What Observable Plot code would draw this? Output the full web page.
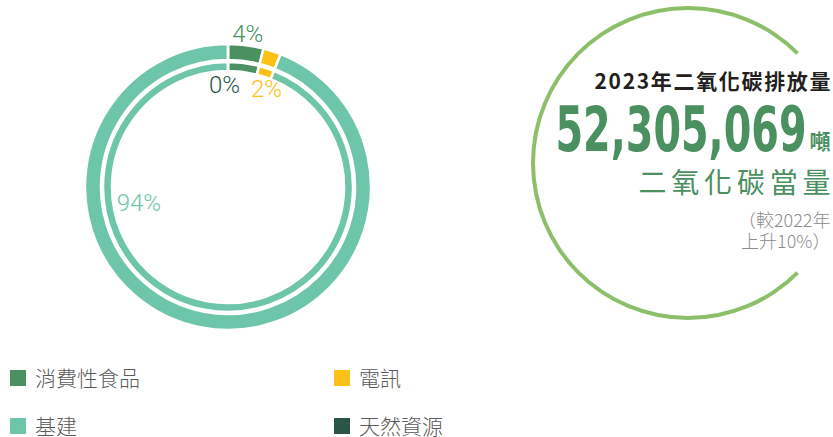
<!DOCTYPE html>
<html><head><meta charset="utf-8">
<script src="https://cdn.jsdelivr.net/npm/d3@7"></script>
<script src="https://cdn.jsdelivr.net/npm/@observablehq/plot@0.6"></script>
<style>
body{margin:0;background:#fff;}
#chart{width:833px;}
#legend{padding:4px 0 0 10px;}
#legend .lg-swatches{margin:0;font-family:"Noto Sans CJK TC",sans-serif;font-size:21px;font-weight:300;color:#5a5a5a;line-height:1.1;}
#legend .lg-swatches-wrap{min-height:0;}
#legend .lg-swatches-wrap .lg-swatch{width:324px;height:48px;margin:0;}
#legend .lg-swatch > svg{margin-right:9px;}
</style></head><body><div id="chart"></div><div id="legend"></div>
<script>
// ---- data ----
const categories = ["消費性食品", "電訊", "基建", "天然資源"];
const shares = [4, 2, 94, 0];
const labels = ["4%", "2%", "94%", "0%"];
const colors = ["#4a9060", "#fcc016", "#6dc6aa", "#2b5546"];
const totalTitle = "2023年二氧化碳排放量";
const totalValue = "52,305,069";
const totalUnit = "噸";
const totalSub = "二氧化碳當量";
const changeNote = ["（較2022年", "上升10%）"];

// ---- layout ----
const W = 833, H = 350;
const donut = {cx: 228, cy: 187, gap: 2.5, rings: [{inner: 127, outer: 143}, {inner: 116, outer: 125}]};
const labelPlacement = [{r: 154, shift: 0}, {r: 105, shift: 3.2}, {r: 91, shift: 69.2}, {r: 102, shift: -2.2}];
const emblem = {cx: 688, cy: 163, r: 155, width: 4, start: 135, end: 405, color: "#8dbf6b"};
const rightX = 830;

const arcs = d3.pie().sort(null).value(v => v)(shares);
const rad = Math.PI / 180;
const labelRows = categories.map((c, i) => {
  const a = arcs[i];
  const ang = (a.startAngle + a.endAngle) / 2 + labelPlacement[i].shift * rad;
  const r = labelPlacement[i].r;
  return {category: c, label: labels[i], x: donut.cx + r * Math.sin(ang), y: donut.cy - r * Math.cos(ang)};
});

function ringsMark(index, scales) {
  const color = scales.color || d3.scaleOrdinal(categories, colors);
  const g = d3.create("svg:g");
  for (const ring of donut.rings) {
    const gen = d3.arc().innerRadius(ring.inner).outerRadius(ring.outer);
    g.append("g")
      .attr("transform", `translate(${scales.x(donut.cx)},${scales.y(donut.cy)})`)
      .selectAll("path").data(arcs).join("path")
      .attr("d", gen)
      .attr("fill", (d, i) => color(categories[i]))
      .attr("stroke", "#fff").attr("stroke-width", donut.gap);
  }
  g.append("path")
    .attr("transform", `translate(${scales.x(emblem.cx)},${scales.y(emblem.cy)})`)
    .attr("d", d3.arc()({innerRadius: emblem.r - emblem.width / 2, outerRadius: emblem.r + emblem.width / 2,
      startAngle: emblem.start * rad, endAngle: emblem.end * rad}))
    .attr("fill", emblem.color);
  return g.node();
}

const cjk = "'Noto Sans CJK TC', sans-serif";
const plot = Plot.plot({
  width: W, height: H, margin: 0,
  x: {domain: [0, W], range: [0, W], axis: null},
  y: {domain: [0, H], range: [0, H], axis: null},
  color: {type: "ordinal", domain: categories, range: colors},
  marks: [
    ringsMark,
    Plot.text(labelRows, {x: "x", y: "y", text: "label", fill: "category", fontSize: 24,
      fontWeight: 300, fontFamily: "Roboto, 'Liberation Sans', sans-serif", textAnchor: "middle", lineAnchor: "middle"}),
    Plot.text([totalTitle], {x: rightX, y: 88, text: d => d, textAnchor: "end", lineAnchor: "bottom",
      fontSize: 21, fontWeight: "bold", fontFamily: cjk, fill: "#231f20"}),
    Plot.text([totalValue], {x: 806, y: 150, text: d => d, textAnchor: "end", lineAnchor: "bottom",
      fontSize: 63, fontWeight: "bold", fontFamily: "'Liberation Sans Narrow', 'DejaVu Sans Condensed', sans-serif", fill: "#4a9060"}),
    Plot.text([totalUnit], {x: rightX, y: 148, text: d => d, textAnchor: "end", lineAnchor: "bottom",
      fontSize: 21, fontWeight: "bold", fontFamily: cjk, fill: "#4a9060"}),
    Plot.text([totalSub], {x: rightX, y: 192, text: d => d, textAnchor: "end", lineAnchor: "bottom",
      fontSize: 28, fontFamily: cjk, fill: "#4a9060"}),
    Plot.text(changeNote, {x: rightX, y: (d, i) => 226 + i * 21, text: d => d, textAnchor: "end", lineAnchor: "bottom",
      fontSize: 18, fontWeight: 300, fontFamily: cjk, fill: "#8c8c8c"})
  ]
});

const fit = {[totalTitle]: [236, "spacing"], [totalValue]: [251, "spacingAndGlyphs"], [totalSub]: [192, "spacing"]};
d3.select(plot).selectAll("text").each(function () {
  const f = fit[this.textContent];
  if (f) d3.select(this).attr("textLength", f[0]).attr("lengthAdjust", f[1]);
});
document.getElementById("chart").append(plot);

const legend = Plot.legend({color: {type: "ordinal", domain: categories, range: colors}, swatchSize: 16, className: "lg"});
document.getElementById("legend").append(legend);
</script></body></html>
